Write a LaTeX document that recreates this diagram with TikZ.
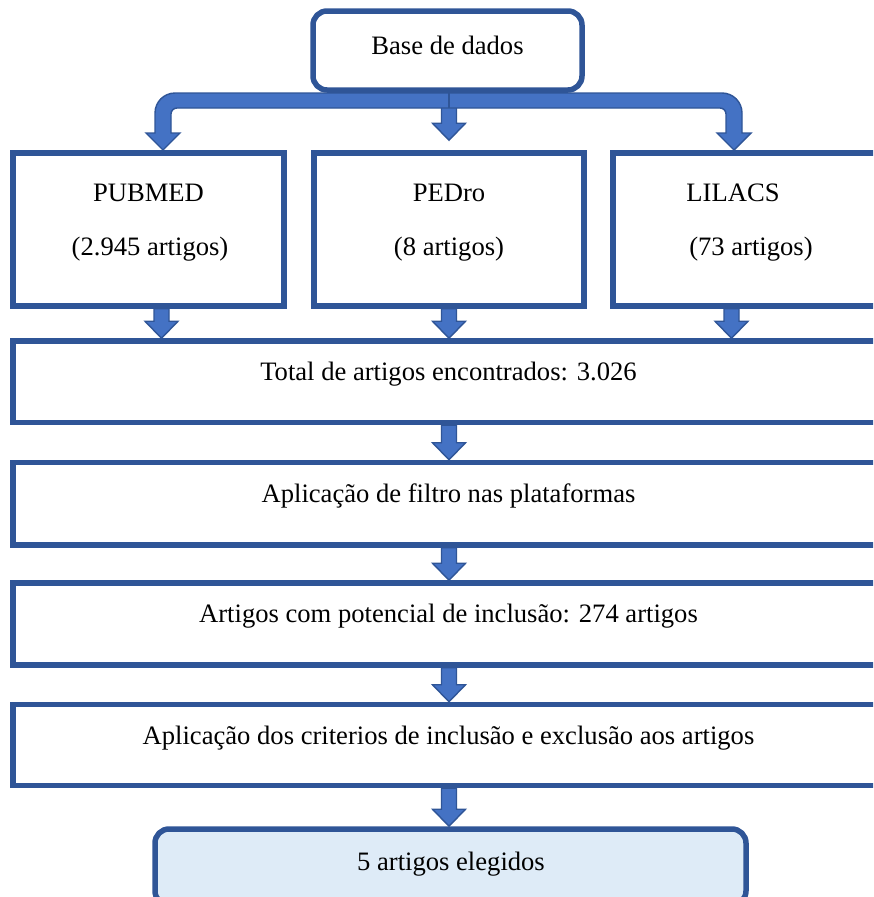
\documentclass[tikz,border=0pt]{standalone}
\usepackage{fontspec}
\setmainfont{Liberation Serif}
\usetikzlibrary{calc,backgrounds}
\definecolor{bordercol}{HTML}{2F5597}
\definecolor{arrowfill}{HTML}{4472C4}
\definecolor{finalfill}{HTML}{DEEBF7}
\tikzset{
  box/.style={draw=bordercol, line width=5.5pt, rectangle, inner sep=0pt},
  roundbox/.style={box, rounded corners=14pt},
  txt/.style={font=\fontsize{26.6}{32}\selectfont, inner sep=0pt, text=black, anchor=base},
  blockarrow/.style={fill=arrowfill, draw=bordercol, line width=1.4pt, line join=miter},
}
\newcommand{\blockarrow}[2]{%
  \path[blockarrow] let \p1=#1, \p2=#2 in
    (\x2-7.5pt,\y1) -- (\x2+7.5pt,\y1) -- (\x2+7.5pt,\y2+17pt) -- (\x2+16.5pt,\y2+17pt)
    -- (\x2,\y2) -- (\x2-16.5pt,\y2+17pt) -- (\x2-7.5pt,\y2+17pt) -- cycle;}
\begin{document}
\begin{tikzpicture}[x=1pt,y=-1pt]
\useasboundingbox (0,0) rectangle (873,897);
\clip (0,0) rectangle (873,897);
\coordinate (c1) at (161.5,0);
\coordinate (c2) at (449,0);
\coordinate (c3) at (731.5,0);

% boxes
\node[roundbox, minimum width=269pt, minimum height=79pt] (base) at (447.5,50.5) {};
\node[box, minimum width=271pt, minimum height=153pt] (pubmed) at (148.5,229.5) {};
\node[box, minimum width=270pt, minimum height=153pt] (pedro) at (449,229.5) {};
\node[box, minimum width=272pt, minimum height=153pt] (lilacs) at (749,229.5) {};
\node[box, minimum width=872pt, minimum height=81.5pt] (total) at (449,381.75) {};
\node[box, minimum width=872pt, minimum height=82.5pt] (filtro) at (449,503.75) {};
\node[box, minimum width=872pt, minimum height=82pt] (potencial) at (449,624) {};
\node[box, minimum width=872pt, minimum height=81pt] (criterios) at (449,745) {};
\node[roundbox, fill=finalfill, minimum width=591pt, minimum height=76pt] (final) at (450.5,867) {};

% texts
\node[txt] (tbase) at (447.5,54.5) {Base de dados};
\node[txt] (tpub1) at (148.5,201) {PUBMED};
\node[txt] (tpub2) at (150,255) {(2.945 artigos)};
\node[txt] (tped1) at (449,201) {PEDro};
\node[txt] (tped2) at (449,255) {(8 artigos)};
\node[txt] (tlil1) at (733,201) {LILACS};
\node[txt] (tlil2) at (751,255) {(73 artigos)};
\node[txt] (ttotal) at (448.5,380.5) {Total de artigos encontrados: 3.026};
\node[txt] (tfiltro) at (448.5,502) {Aplicação de filtro nas plataformas};
\node[txt] (tpot) at (448.5,622.5) {Artigos com potencial de inclusão: 274 artigos};
\node[txt] (tcrit) at (448.5,744.5) {Aplicação dos criterios de inclusão e exclusão aos artigos};
\node[txt] (tfinal) at (451,870) {5 artigos elegidos};

\begin{scope}[on background layer]
  % central arrow from base (under the bracket)
  \blockarrow{(base.south)}{($(pedro.north)+(0,-10)$)}
  % bracket arrow
  \path[blockarrow] (449,93) -- (722,93) arc[start angle=-90, end angle=0, radius=20]
    -- (742,133) -- (751,133) -- (734,150) -- (717,133) -- (726,133)
    -- (726,114) arc[start angle=0, end angle=-90, radius=6]
    -- (177,108) arc[start angle=-90, end angle=-180, radius=6]
    -- (171,133) -- (180,133) -- (163,150) -- (146,133) -- (155,133)
    -- (155,113) arc[start angle=180, end angle=270, radius=20]
    -- cycle;
  \draw[bordercol, line width=1.4pt] (449,93) -- (449,108);
  % arrows between boxes
  \blockarrow{(pubmed.south -| c1)}{(total.north -| c1)}
  \blockarrow{(pedro.south -| c2)}{(total.north -| c2)}
  \blockarrow{(lilacs.south -| c3)}{(total.north -| c3)}
  \blockarrow{(total.south -| c2)}{(filtro.north -| c2)}
  \blockarrow{(filtro.south -| c2)}{(potencial.north -| c2)}
  \blockarrow{(potencial.south -| c2)}{(criterios.north -| c2)}
  \blockarrow{(criterios.south -| c2)}{(final.north -| c2)}
\end{scope}
\end{tikzpicture}
\end{document}
